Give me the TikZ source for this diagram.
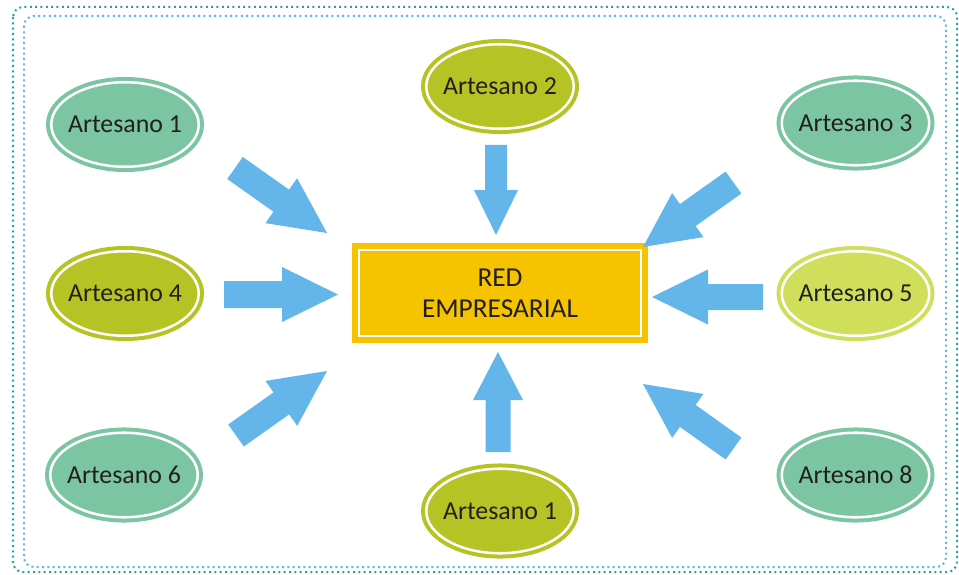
\documentclass[tikz,border=0pt]{standalone}
\usepackage{fontspec}
\setmainfont{Carlito}
\usetikzlibrary{shapes.geometric,calc}

\definecolor{mint}{HTML}{7CC5A3}
\definecolor{olive}{HTML}{B5C424}
\definecolor{lime}{HTML}{CFDE5B}
\definecolor{gold}{HTML}{F5C300}
\definecolor{sky}{HTML}{64B5EA}
\definecolor{frameteal}{HTML}{2E9EA6}
\definecolor{frameblue}{HTML}{5DB5EA}
\definecolor{ink}{HTML}{231F20}

% Block arrow: #1 name, #2 tail, #3 tip, #4 shaft width, #5 head width, #6 head length (px)
\newcommand{\blockarrow}[6]{%
  \coordinate (#1-b) at ($(#3)!{#6*0.75pt}!(#2)$);
  \fill[sky] ($(#2)!{#4*0.375pt}!90:(#3)$)
    -- ($(#1-b)!{#4*0.375pt}!90:(#3)$)
    -- ($(#1-b)!{#5*0.375pt}!90:(#3)$)
    -- (#3)
    -- ($(#1-b)!{#5*0.375pt}!-90:(#3)$)
    -- ($(#1-b)!{#4*0.375pt}!-90:(#3)$)
    -- ($(#2)!{#4*0.375pt}!-90:(#3)$) -- cycle;
}
% label text that does not widen its ellipse
\newcommand{\slim}[1]{\makebox[0pt]{#1}}

\begin{document}
\begin{tikzpicture}[x=0.75pt,y=-0.75pt,
  artisan/.style={ellipse, fill=#1, draw=#1, double=white,
    double distance=1.9pt, line width=3pt,
    minimum width=110.6pt, minimum height=63.4pt, inner sep=0pt,
    text=ink, font=\fontsize{19.4}{23}\selectfont},
  hub/.style={rectangle, fill=gold, draw=gold, double=white,
    double distance=1.5pt, line width=4.1pt,
    minimum width=212pt, minimum height=65pt, align=center,
    text=ink, font=\fontsize{20.5}{23.25}\selectfont},
  dotframe/.style={draw=#1, line width=1.5pt,
    dash pattern=on 1.5pt off 2.5pt, rounded corners=7.5pt}]

\useasboundingbox (0,0) rectangle (959,574);

% outer and inner dotted frames
\draw[dotframe=frameteal] (13,7) rectangle (957,572);
\draw[dotframe=frameblue] (24,16) rectangle (946,567);

% central network
\node[hub] (red) at (500,293) {RED\\EMPRESARIAL};

% artisans
\node[artisan=mint]  (a1) at (125,124.5) {\slim{Artesano 1}};
\node[artisan=olive] (a2) at (500,86.5)  {\slim{Artesano 2}};
\node[artisan=mint]  (a3) at (855.5,123) {\slim{Artesano 3}};
\node[artisan=olive] (a4) at (125,293.5) {\slim{Artesano 4}};
\node[artisan=lime]  (a5) at (855.5,293.5) {\slim{Artesano 5}};
\node[artisan=mint]  (a6) at (124,475)   {\slim{Artesano 6}};
\node[artisan=olive] (a7) at (500,511)   {\slim{Artesano 1}};
\node[artisan=mint]  (a8) at (855.5,475) {\slim{Artesano 8}};

% arrow tails and tips
\coordinate (t2) at (496,145);   \coordinate (h2) at (496,235);
\coordinate (t4) at (224,294.5); \coordinate (h4) at (338,294.5);
\coordinate (t1) at (235,168);   \coordinate (h1) at (327,233);
\coordinate (t3) at (733.5,182.5); \coordinate (h3) at (643,247);
\coordinate (t6) at (236,435.5); \coordinate (h6) at (327,371);
\coordinate (t8) at (733.5,448.5); \coordinate (h8) at (643,384);
\coordinate (t5) at (763,297);   \coordinate (h5) at (652,297);
\coordinate (t7) at (498,452);   \coordinate (h7) at (498,352);

\blockarrow{ar2}{t2}{h2}{22}{44}{45}
\blockarrow{ar4}{t4}{h4}{27}{55}{56}
\blockarrow{ar1}{t1}{h1}{27}{55}{56}
\blockarrow{ar3}{t3}{h3}{27}{54}{55}
\blockarrow{ar6}{t6}{h6}{27}{55}{56}
\blockarrow{ar8}{t8}{h8}{27}{54}{55}
\blockarrow{ar5}{t5}{h5}{26}{55}{56}
\blockarrow{ar7}{t7}{h7}{25}{50}{48}

\end{tikzpicture}
\end{document}
